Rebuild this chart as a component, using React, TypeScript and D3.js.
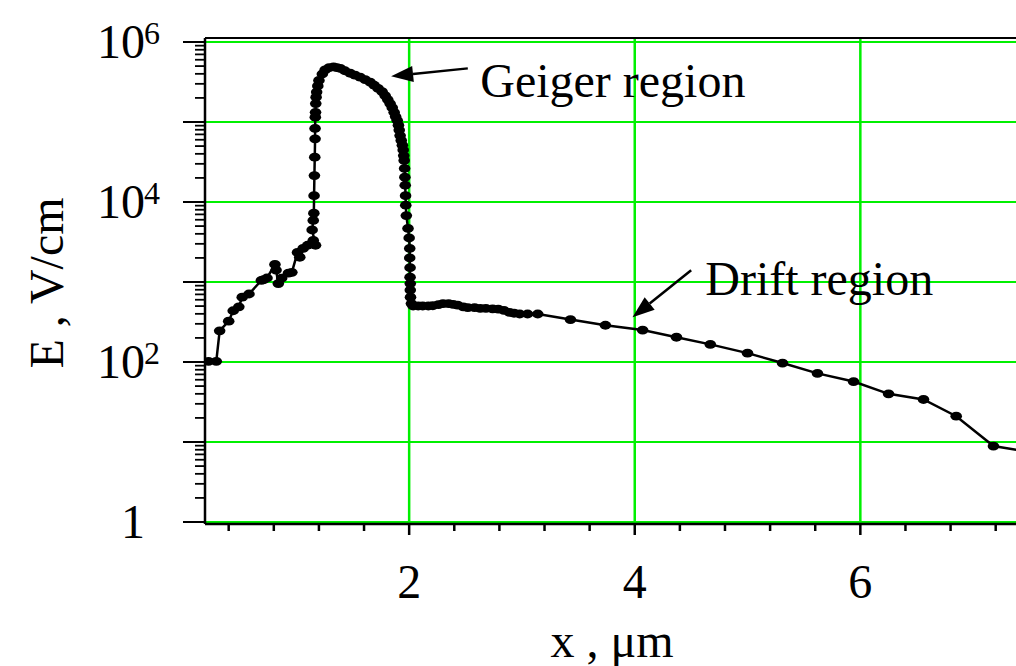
import React from 'react';
import * as d3 from 'd3';

// depth coordinate, um
const posX = [
  0.22, 0.29, 0.32, 0.4, 0.44, 0.49, 0.52, 0.58, 0.69, 0.71, 0.74, 0.81, 0.82, 0.84, 0.87, 0.93, 0.96,
  1.01, 1.03, 1.06, 1.1, 1.15, 1.17, 1.14, 1.15,
  1.155, 1.157, 1.16, 1.163, 1.166, 1.166, 1.168, 1.17, 1.172, 1.175, 1.18, 1.19, 1.2, 1.23, 1.255,
  1.29, 1.33, 1.36, 1.39, 1.43, 1.477, 1.52, 1.565, 1.61, 1.654, 1.69, 1.725, 1.76, 1.787, 1.81,
  1.831, 1.85, 1.867, 1.88, 1.894, 1.905, 1.912, 1.92, 1.93, 1.94, 1.947, 1.952, 1.956, 1.96, 1.962,
  1.965, 1.968, 1.97, 1.975, 1.99, 2.0, 2.005, 2.005, 2.008, 2.008, 2.01, 2.01, 2.012, 2.02,
  2.035, 2.08, 2.12, 2.17, 2.21, 2.26, 2.3, 2.35, 2.39, 2.43, 2.48, 2.52, 2.58, 2.63, 2.68, 2.74,
  2.79, 2.84, 2.89, 2.93, 2.98, 3.05, 3.14,
  3.43, 3.74, 4.07, 4.37, 4.67, 5.0, 5.31, 5.62, 5.94, 6.25, 6.56, 6.85, 7.18, 7.55,
];

// electric field, V/cm
const fieldE = [
  102, 102, 245, 324, 437, 490, 646, 708, 1047, 1070, 1122, 1660, 1410, 955, 1120, 1290, 1320,
  2340, 2040, 2630, 2880, 3310, 2880, 4470, 5890,
  7240, 12000, 21400, 36300, 61700, 83200, 115000, 132000, 170000, 204000, 237000, 282000, 331000, 398000, 447000,
  479000, 490000, 479000, 468000, 437000, 407000, 385000, 363000, 339000, 316000, 288000, 263000, 240000, 214000, 191000,
  170000, 151000, 132000, 117000, 105000, 91200, 79400, 67600, 58900, 51300, 44700, 38000, 33100, 26300, 20400,
  16200, 12000, 9120, 6760, 4680, 3550, 2630, 2000, 1510, 1150, 955, 794, 646, 537,
  501, 501, 501, 501, 505, 520, 537, 537, 525, 513, 490, 479, 479, 468, 468, 462,
  457, 442, 417, 407, 398, 398, 398,
  339, 288, 251, 204, 166, 129, 97, 72, 57, 40, 34, 21, 8.9, 7.3,
];

const xMajorTicks = [2, 4, 6];
const yLabelPowers = [6, 4, 2];

const W = 1016;
const H = 666;
const left = 205;
const right = 1016;
const top = 42;
const bottom = 522;
const green = '#00f000';
const serif = '"Liberation Serif", "Times New Roman", serif';

const App = () => {
  const x = d3.scaleLinear().domain([0.19, 7.38]).range([left, right]);
  const y = d3.scaleLog().domain([1, 1e6]).range([bottom, top]);

  const pts = posX.map((v, i) => [v, fieldE[i]]);
  const line = d3
    .line()
    .x(d => x(d[0]))
    .y(d => y(d[1]));

  const decades = d3.range(0, 7).map(p => Math.pow(10, p));
  const minorY = [];
  for (let p = 0; p < 6; p++) {
    for (let k = 2; k < 10; k++) minorY.push(k * Math.pow(10, p));
  }
  const xMinor = d3.range(0.4, 7.39, 0.4).filter(v => Math.abs(v / 2 - Math.round(v / 2)) > 0.01);

  const arrow = (x1, y1, x2, y2) => {
    // tail (x1,y1) -> tip (x2,y2), arrowhead filled
    const ang = Math.atan2(y2 - y1, x2 - x1);
    const len = 22;
    const half = 8;
    const bx = x2 - len * Math.cos(ang);
    const by = y2 - len * Math.sin(ang);
    const px = -Math.sin(ang) * half;
    const py = Math.cos(ang) * half;
    return (
      <g>
        <line x1={x1} y1={y1} x2={bx} y2={by} stroke="#000" strokeWidth={2.5} />
        <path d={`M${x2},${y2}L${bx + px},${by + py}L${bx - px},${by - py}Z`} fill="#000" />
      </g>
    );
  };

  return (
    <svg
      width={W}
      height={H}
      style={{ position: 'fixed', left: 0, top: 0, background: '#fff' }}
      fontFamily={serif}
    >
      <defs>
        <clipPath id="plot">
          <rect x={left} y={top - 6} width={right - left} height={bottom - top + 12} />
        </clipPath>
      </defs>

      {/* grid */}
      {decades.map(d => (
        <line key={'gy' + d} x1={left} x2={right} y1={y(d)} y2={y(d)} stroke={green} strokeWidth={2} />
      ))}
      {xMajorTicks.map(t => (
        <line key={'gx' + t} x1={x(t)} x2={x(t)} y1={top - 4} y2={bottom} stroke={green} strokeWidth={2.5} />
      ))}

      {/* frame */}
      <line x1={left} x2={right} y1={top - 4} y2={top - 4} stroke="#000" strokeWidth={2} />
      <line x1={left} x2={left} y1={top - 4} y2={bottom + 2} stroke="#000" strokeWidth={2.5} />
      <line x1={left} x2={right} y1={bottom + 2} y2={bottom + 2} stroke="#000" strokeWidth={2.5} />

      {/* y ticks */}
      {decades.map(d => (
        <line key={'ty' + d} x1={left - 22} x2={left} y1={y(d)} y2={y(d)} stroke="#000" strokeWidth={2} />
      ))}
      {minorY.map(d => (
        <line key={'my' + d} x1={left - 10} x2={left} y1={y(d)} y2={y(d)} stroke="#000" strokeWidth={1.8} />
      ))}

      {/* x ticks */}
      {xMajorTicks.map(t => (
        <line key={'tx' + t} x1={x(t)} x2={x(t)} y1={bottom + 2} y2={bottom + 13} stroke="#000" strokeWidth={2.5} />
      ))}
      {xMinor.map(t => (
        <line key={'mx' + t} x1={x(t)} x2={x(t)} y1={bottom + 2} y2={bottom + 9} stroke="#000" strokeWidth={2.5} />
      ))}

      {/* tick labels */}
      {xMajorTicks.map(t => (
        <text key={'lx' + t} x={x(t)} y={598} textAnchor="middle" fontSize={48}>
          {t}
        </text>
      ))}
      {yLabelPowers.map(p => (
        <g key={'ly' + p}>
          <text x={145} y={y(Math.pow(10, p)) + 16} textAnchor="end" fontSize={48}>
            10
          </text>
          <text x={144} y={y(Math.pow(10, p)) + 2} fontSize={32}>
            {p}
          </text>
        </g>
      ))}
      <text x={145} y={y(1) + 16} textAnchor="end" fontSize={48}>
        1
      </text>

      {/* axis titles */}
      <text x={612} y={657} textAnchor="middle" fontSize={48}>
        x , μm
      </text>
      <text transform="translate(63,283) rotate(-90)" textAnchor="middle" fontSize={48}>
        E , V/cm
      </text>

      {/* data */}
      <g clipPath="url(#plot)">
        <path d={line(pts)} fill="none" stroke="#000" strokeWidth={2.5} />
        {pts.map((d, i) => (
          <ellipse key={i} cx={x(d[0])} cy={y(d[1])} rx={5.8} ry={4.4} fill="#000" />
        ))}
      </g>

      {/* annotations */}
      {arrow(x(2.52), y(468000), x(1.84), y(372000))}
      <text x={x(2.63)} y={y(204000)} fontSize={48}>
        Geiger region
      </text>
      {arrow(x(4.5), y(1400), x(3.98), y(363))}
      <text x={x(4.625)} y={y(682)} fontSize={48}>
        Drift region
      </text>
    </svg>
  );
};

export default App;
